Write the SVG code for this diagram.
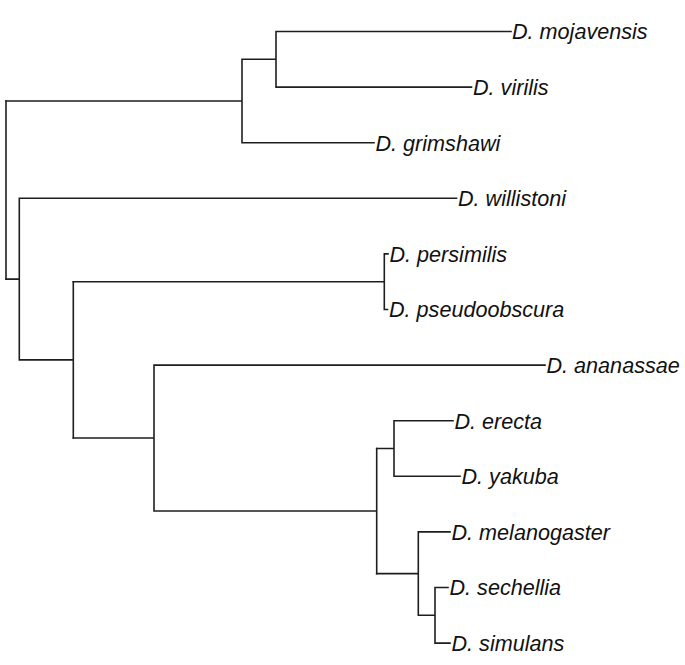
<svg xmlns="http://www.w3.org/2000/svg" width="685" height="665" viewBox="0 0 685 665">
<style>
.e{fill:none;stroke:#1e1e1e;stroke-width:1.6;stroke-linecap:square}
.t{font-family:"Liberation Sans",Arial,sans-serif;font-style:italic;font-size:21.6px;fill:#111}
</style>
<rect width="685" height="665" fill="#fff"/>
<g id="connectors">
<path class="e" d="M6,101V279.1"/>
<path class="e" d="M6,101H242M242,59.3V142.7M242,59.3H276M276,31.5V87.1M276,31.5H511M276,87.1H471.5M242,142.7H374"/>
<path class="e" d="M6,279.1H19.3M19.3,198.3V359.9M19.3,198.3H456.5M19.3,359.9H73.3M73.3,281.7V438"/>
<path class="e" d="M73.3,281.7H384.3M384.3,253.9V309.5M384.3,253.9H388M384.3,309.5H387.5"/>
<path class="e" d="M73.3,438H154M154,365.1V511M154,365.1H545M154,511H376.7M376.7,448.5V573.6"/>
<path class="e" d="M376.7,448.5H394M394,420.7V476.3M394,420.7H453M394,476.3H460"/>
<path class="e" d="M376.7,573.6H418.3M418.3,531.9V615.3M418.3,531.9H450M418.3,615.3H435M435,587.5V643.1M435,587.5H448M435,643.1H450"/>
</g>
<g id="mojavensis"><text class="t" x="512" y="39.3">D. mojavensis</text></g>
<g id="virilis"><text class="t" x="473" y="94.9">D. virilis</text></g>
<g id="grimshawi"><text class="t" x="375.5" y="150.5">D. grimshawi</text></g>
<g id="willistoni"><text class="t" x="458" y="206.1">D. willistoni</text></g>
<g id="persimilis"><text class="t" x="389.5" y="261.7">D. persimilis</text></g>
<g id="pseudoobscura"><text class="t" x="389" y="317.3">D. pseudoobscura</text></g>
<g id="ananassae"><text class="t" x="546.5" y="372.9">D. ananassae</text></g>
<g id="erecta"><text class="t" x="454.5" y="428.5">D. erecta</text></g>
<g id="yakuba"><text class="t" x="461.5" y="484.1">D. yakuba</text></g>
<g id="melanogaster"><text class="t" x="451.5" y="539.7">D. melanogaster</text></g>
<g id="sechellia"><text class="t" x="449.5" y="595.3">D. sechellia</text></g>
<g id="simulans"><text class="t" x="451.5" y="650.9">D. simulans</text></g>
</svg>
